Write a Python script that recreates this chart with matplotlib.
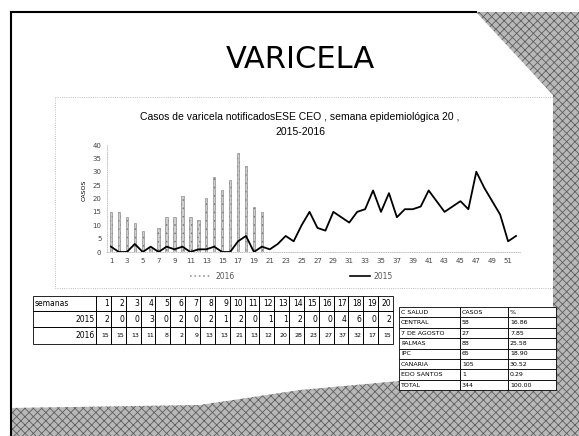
import matplotlib.pyplot as plt
from matplotlib.patches import Polygon, Rectangle
from matplotlib.lines import Line2D

# datos
semanas = list(range(1, 53))
casos_2015 = [2, 0, 0, 3, 0, 2, 0, 2, 1, 2, 0, 1, 1, 2, 0, 0, 4, 6, 0, 2,
              1, 3, 6, 4, 10, 15, 9, 8, 15, 13, 11, 15, 16, 23, 15, 22, 13, 16, 16, 17,
              23, 19, 15, 17, 19, 16, 30, 24, 19, 14, 4, 6]
semanas_2016 = list(range(1, 21))
casos_2016 = [15, 15, 13, 11, 8, 2, 9, 13, 13, 21, 13, 12, 20, 28, 23, 27, 37, 32, 17, 15]
xticks = list(range(1, 52, 2))

centros = ["C SALUD", "CENTRAL", "7 DE AGOSTO", "PALMAS", "IPC", "CANARIA", "EDO SANTOS", "TOTAL"]
centro_casos = ["CASOS", "58", "27", "88", "65", "105", "1", "344"]
centro_pct = ["%", "16.86", "7.85", "25.58", "18.90", "30.52", "0.29", "100.00"]

W, H = 579, 436
fig = plt.figure(figsize=(W / 100, H / 100), dpi=100)
plt.rcParams["hatch.linewidth"] = 0.6

# fondo / marco de la diapositiva (coordenadas en pixeles)
bg = fig.add_axes([0, 0, 1, 1])
bg.set_xlim(0, W)
bg.set_ylim(H, 0)
bg.axis("off")

hatch_kw = dict(facecolor="#b8b8b8", edgecolor="#5e5e5e", hatch="xxxx", linewidth=0, zorder=1)
bg.add_patch(Polygon([(476, 12), (579, 12), (579, 436), (553, 436), (553, 95)], **hatch_kw))
bg.add_patch(Polygon([(11, 408), (200, 405), (300, 390), (400, 381), (553, 381),
                      (553, 436), (11, 436)], **hatch_kw))
bg.plot([11, 476], [12, 12], color="black", lw=1.5, zorder=2)
bg.plot([11, 11], [12, 436], color="black", lw=1.5, zorder=2)

bg.text(300, 60, "VARICELA", fontsize=22, ha="center", va="center",
        family=["Liberation Sans Narrow", "DejaVu Sans"], zorder=3)

# caja del grafico
bg.add_patch(Rectangle((55, 97), 500, 191, fill=False, ec="#aaaaaa", lw=0.6, ls=":", zorder=2))
bg.text(300, 117, "Casos de varicela notificadosESE CEO , semana epidemiológica 20 ,",
        fontsize=7.5, ha="center", va="center", family="Liberation Sans", zorder=3)
bg.text(300, 132, "2015-2016", fontsize=7.5, ha="center", va="center",
        family="Liberation Sans", zorder=3)
bg.text(84, 190, "CASOS", fontsize=4.5, rotation=90, ha="center", va="center", zorder=3)

# leyenda
bg.add_line(Line2D([190, 212], [276, 276], color="#999999", lw=1.2, ls=":", zorder=3))
bg.text(215, 276, "2016", fontsize=5.5, va="center", color="#555555", zorder=3)
bg.add_line(Line2D([350, 370], [276, 276], color="black", lw=1.2, zorder=3))
bg.text(373, 276, "2015", fontsize=5.5, va="center", color="#555555", zorder=3)

# grafico
ax = fig.add_axes([107 / W, 1 - 252 / H, (520 - 107) / W, (252 - 145) / H])
ax.bar(semanas_2016, casos_2016, width=0.3, color="#cfcfcf", edgecolor="#7a7a7a",
       hatch="....", linewidth=0.4, zorder=2)
ax.plot(semanas, casos_2015, color="black", lw=1.3, zorder=3)
ax.set_xlim(0.5, 52.5)
ax.set_ylim(0, 40)
ax.set_yticks(range(0, 41, 5))
ax.set_xticks(xticks)
ax.tick_params(labelsize=5, length=0, colors="#444444", pad=4)
ax.patch.set_alpha(0)
for side in ["top", "right"]:
    ax.spines[side].set_visible(False)
for side in ["left", "bottom"]:
    ax.spines[side].set_color("#bbbbbb")
    ax.spines[side].set_linestyle(":")
    ax.spines[side].set_linewidth(0.6)

# tabla semanas
x0, x1, ncol = 33, 96, 20
cw = (393 - x1) / ncol
rows_y = [296, 311, 327, 344]
filas = [("semanas", list(range(1, 21))), ("2015", casos_2015[:20]), ("2016", casos_2016)]
for r, (nombre, vals) in enumerate(filas):
    ya, yb = rows_y[r], rows_y[r + 1]
    bg.add_patch(Rectangle((x0, ya), x1 - x0, yb - ya, fill=False, ec="black", lw=0.6, zorder=3))
    if r == 0:
        bg.text(x0 + 2, (ya + yb) / 2, nombre, fontsize=5.5, va="center", zorder=4)
    else:
        bg.text(x1 - 1.5, (ya + yb) / 2, nombre, fontsize=5.5, va="center", ha="right", zorder=4)
    for c, v in enumerate(vals):
        cx = x1 + c * cw
        bg.add_patch(Rectangle((cx, ya), cw, yb - ya, fill=False, ec="black", lw=0.6, zorder=3))
        bg.text(cx + cw - 1.5, (ya + yb) / 2, str(v), fontsize=5.5 if r < 2 else 4.5,
                va="center", ha="right", zorder=4)

# tabla centros de salud
cols_x = [399, 460, 508, 556]
rh = 10.4
ty = 307
for i in range(len(centros)):
    ya = ty + i * rh
    for j, txt in enumerate([centros[i], centro_casos[i], centro_pct[i]]):
        bg.add_patch(Rectangle((cols_x[j], ya), cols_x[j + 1] - cols_x[j], rh,
                               facecolor="white", ec="black", lw=0.6, zorder=3))
        bg.text(cols_x[j] + 2, ya + rh / 2, txt, fontsize=4.5, va="center", zorder=4)

fig.savefig("out.png", dpi=100)
